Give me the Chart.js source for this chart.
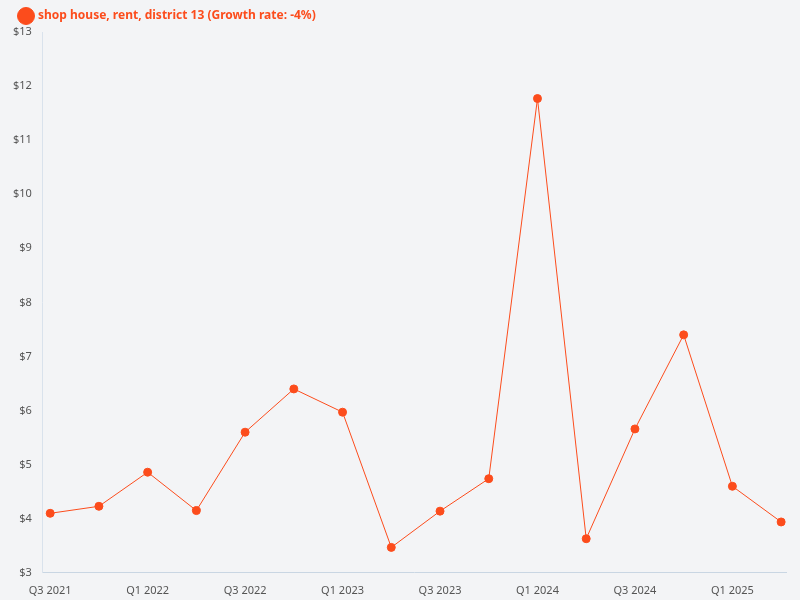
<!DOCTYPE html>
<html>
<head>
<meta charset="utf-8">
<script src="https://cdn.jsdelivr.net/npm/chart.js@4"></script>
<style>
  html, body { margin: 0; padding: 0; background: #f3f4f6; }
  #wrap { width: 800px; height: 600px; }
</style>
</head>
<body>
<div id="wrap"><canvas id="chart"></canvas></div>
<script>
// Quarter labels and rent values
const quarters = [
  "Q3 2021", "Q4 2021", "Q1 2022", "Q2 2022", "Q3 2022", "Q4 2022",
  "Q1 2023", "Q2 2023", "Q3 2023", "Q4 2023", "Q1 2024", "Q2 2024",
  "Q3 2024", "Q4 2024", "Q1 2025", "Q2 2025",
];
const rentValues = [
  4.10, 4.23, 4.86, 4.15, 5.60, 6.40, 5.97, 3.47,
  4.14, 4.74, 11.77, 3.63, 5.66, 7.40, 4.60, 3.94,
];
const seriesLabel = "shop house, rent, district 13 (Growth rate: -4%)";
const lineColor = "#fc4c1c";

Chart.defaults.font.family = "'Noto Sans', 'Open Sans', sans-serif";

new Chart(document.getElementById("chart"), {
  type: "line",
  data: {
    datasets: [
      {
        label: seriesLabel,
        data: rentValues.map((v, i) => ({ x: i, y: v })),
        borderColor: lineColor,
        backgroundColor: lineColor,
        borderWidth: 1,
        pointRadius: 4,
        pointHoverRadius: 5,
        tension: 0,
      },
    ],
  },
  options: {
    responsive: true,
    maintainAspectRatio: false,
    animation: false,
    layout: { padding: { left: 10, right: 14, top: 0, bottom: 0 } },
    plugins: {
      legend: {
        position: "top",
        align: "start",
        labels: {
          color: lineColor,
          usePointStyle: true,
          pointStyle: "line",
          font: { size: 12, weight: "bold" },
          padding: 10,
          generateLabels: (chart) => {
            const items = Chart.defaults.plugins.legend.labels.generateLabels(chart);
            items.forEach((it) => { it.pointStyle = "circle"; it.fontColor = lineColor; });
            return items;
          },
        },
      },
      tooltip: { enabled: true },
    },
    scales: {
      x: {
        type: "linear",
        min: -0.15,
        max: 15.1,
        grid: { display: false },
        border: { color: "#c9d6e3" },
        ticks: {
          stepSize: 2,
          color: "#555",
          font: { size: 11 },
          maxRotation: 0,
          callback: (v) => quarters[v] ?? "",
        },
        afterBuildTicks: (axis) => {
          axis.ticks = [0, 2, 4, 6, 8, 10, 12, 14].map((v) => ({ value: v }));
        },
      },
      y: {
        min: 3,
        max: 13,
        grid: { display: false },
        border: { color: "#d9e2ec" },
        ticks: {
          stepSize: 1,
          color: "#555",
          font: { size: 11 },
          callback: (v) => "$" + v,
        },
      },
    },
  },
});
</script>
</body>
</html>
